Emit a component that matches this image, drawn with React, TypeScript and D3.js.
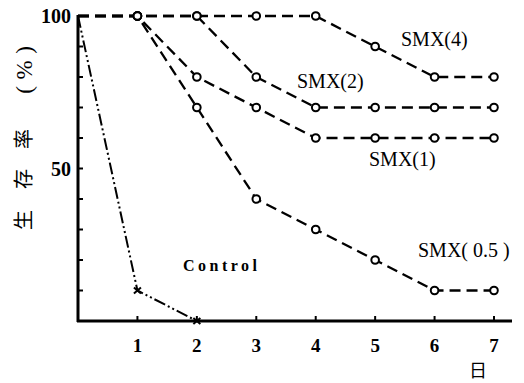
import React from "react";
import * as d3 from "d3";

const days = [0, 1, 2, 3, 4, 5, 6, 7];
const smx4 = [100, 100, 100, 100, 100, 90, 80, 80];
const smx2 = [100, 100, 100, 80, 70, 70, 70, 70];
const smx1 = [100, 100, 80, 70, 60, 60, 60, 60];
const smx05 = [100, 100, 70, 40, 30, 20, 10, 10];
const controlDays = [0, 1, 2];
const controlValues = [100, 10, 0];
const xTickLabels = ["1", "2", "3", "4", "5", "6", "7"];
const yTickLabels = ["50", "100"];
const yTitleGlyphs = ["生", "存", "率", "(", "%", ")"];

const W = 524;
const H = 383;
const x = d3.scaleLinear().domain([0, 7]).range([78, 494]);
const y = d3.scaleLinear().domain([0, 100]).range([321, 16]);

const serif = "'Liberation Serif', 'DejaVu Serif', serif";
const cjk = "'Noto Sans CJK JP', sans-serif";

const series = [
  { name: "SMX(4)", values: smx4 },
  { name: "SMX(2)", values: smx2 },
  { name: "SMX(1)", values: smx1 },
  { name: "SMX(0.5)", values: smx05 },
];

const line = d3
  .line<[number, number]>()
  .x((d) => x(d[0]))
  .y((d) => y(d[1]));

// vertical positions of the rotated y-axis title glyphs, bottom to top
const titleY = [220, 179, 139, 90, 70, 50];

export default function App() {
  const yTicks = d3.range(10, 101, 10);
  return (
    <svg
      width={W}
      height={H}
      style={{ position: "absolute", left: 0, top: 0, background: "#fff" }}
    >
      {/* axes */}
      <line x1={x(0)} y1={y(100) - 1} x2={x(0)} y2={y(0) + 1} stroke="#000" strokeWidth={3} />
      <line x1={x(0) - 1} y1={y(0)} x2={512} y2={y(0)} stroke="#000" strokeWidth={3} />
      {yTicks.map((t) => (
        <line key={"yt" + t} x1={x(0)} x2={x(0) + 5} y1={y(t)} y2={y(t)} stroke="#000" strokeWidth={2} />
      ))}
      {days.slice(1).map((d) => (
        <line key={"xt" + d} x1={x(d)} x2={x(d)} y1={y(0)} y2={y(0) - 5} stroke="#000" strokeWidth={2} />
      ))}
      {/* tick labels */}
      {yTickLabels.map((t) => (
        <text
          key={"yl" + t}
          x={71}
          y={y(+t)}
          dy="0.36em"
          textAnchor="end"
          fontFamily={serif}
          fontWeight="bold"
          fontSize={20}
        >
          {t}
        </text>
      ))}
      {xTickLabels.map((t) => (
        <text
          key={"xl" + t}
          x={x(+t)}
          y={352}
          textAnchor="middle"
          fontFamily={serif}
          fontWeight="bold"
          fontSize={19}
        >
          {t}
        </text>
      ))}
      <text x={478} y={377} textAnchor="middle" fontFamily={cjk} fontSize={18}>
        日
      </text>
      {yTitleGlyphs.map((g, i) => (
        <text
          key={"yg" + i}
          transform={`translate(24,${titleY[i]}) rotate(-90)`}
          textAnchor="middle"
          dy="0.36em"
          fontFamily={i < 3 ? cjk : serif}
          fontSize={i < 3 ? 20 : 23}
        >
          {g}
        </text>
      ))}

      {/* control series */}
      <path
        d={line(controlDays.map((d, i) => [d, controlValues[i]] as [number, number])) || ""}
        fill="none"
        stroke="#000"
        strokeWidth={2}
        strokeDasharray="12,3,2,3,2,3"
      />
      {controlDays.slice(1).map((d, i) => {
        const cx = x(d);
        const cy = y(controlValues[i + 1]);
        return (
          <g key={"cx" + d} stroke="#000" strokeWidth={2}>
            <line x1={cx - 3.5} y1={cy - 3} x2={cx + 3.5} y2={cy + 3} />
            <line x1={cx - 3.5} y1={cy + 3} x2={cx + 3.5} y2={cy - 3} />
          </g>
        );
      })}

      {/* SMX series */}
      {series.map((s) => (
        <path
          key={s.name}
          d={line(days.map((d, i) => [d, s.values[i]] as [number, number])) || ""}
          fill="none"
          stroke="#000"
          strokeWidth={2.3}
          strokeDasharray="11,6"
        />
      ))}
      {series.map((s) =>
        days.slice(1).map((d) => (
          <circle
            key={s.name + d}
            cx={x(d)}
            cy={y(s.values[d])}
            r={3.8}
            fill="#fff"
            stroke="#000"
            strokeWidth={2}
          />
        ))
      )}

      {/* series labels */}
      <g fontFamily={serif} fontSize={20}>
        <text x={401} y={46}>SMX(4)</text>
        <text x={297} y={88}>SMX(2)</text>
        <text x={369} y={166}>SMX(1)</text>
        <text x={418} y={257}>SMX( 0.5 )</text>
        <text x={183} y={271} fontWeight="bold" fontSize={16} letterSpacing={3.5}>
          Control
        </text>
      </g>
    </svg>
  );
}
